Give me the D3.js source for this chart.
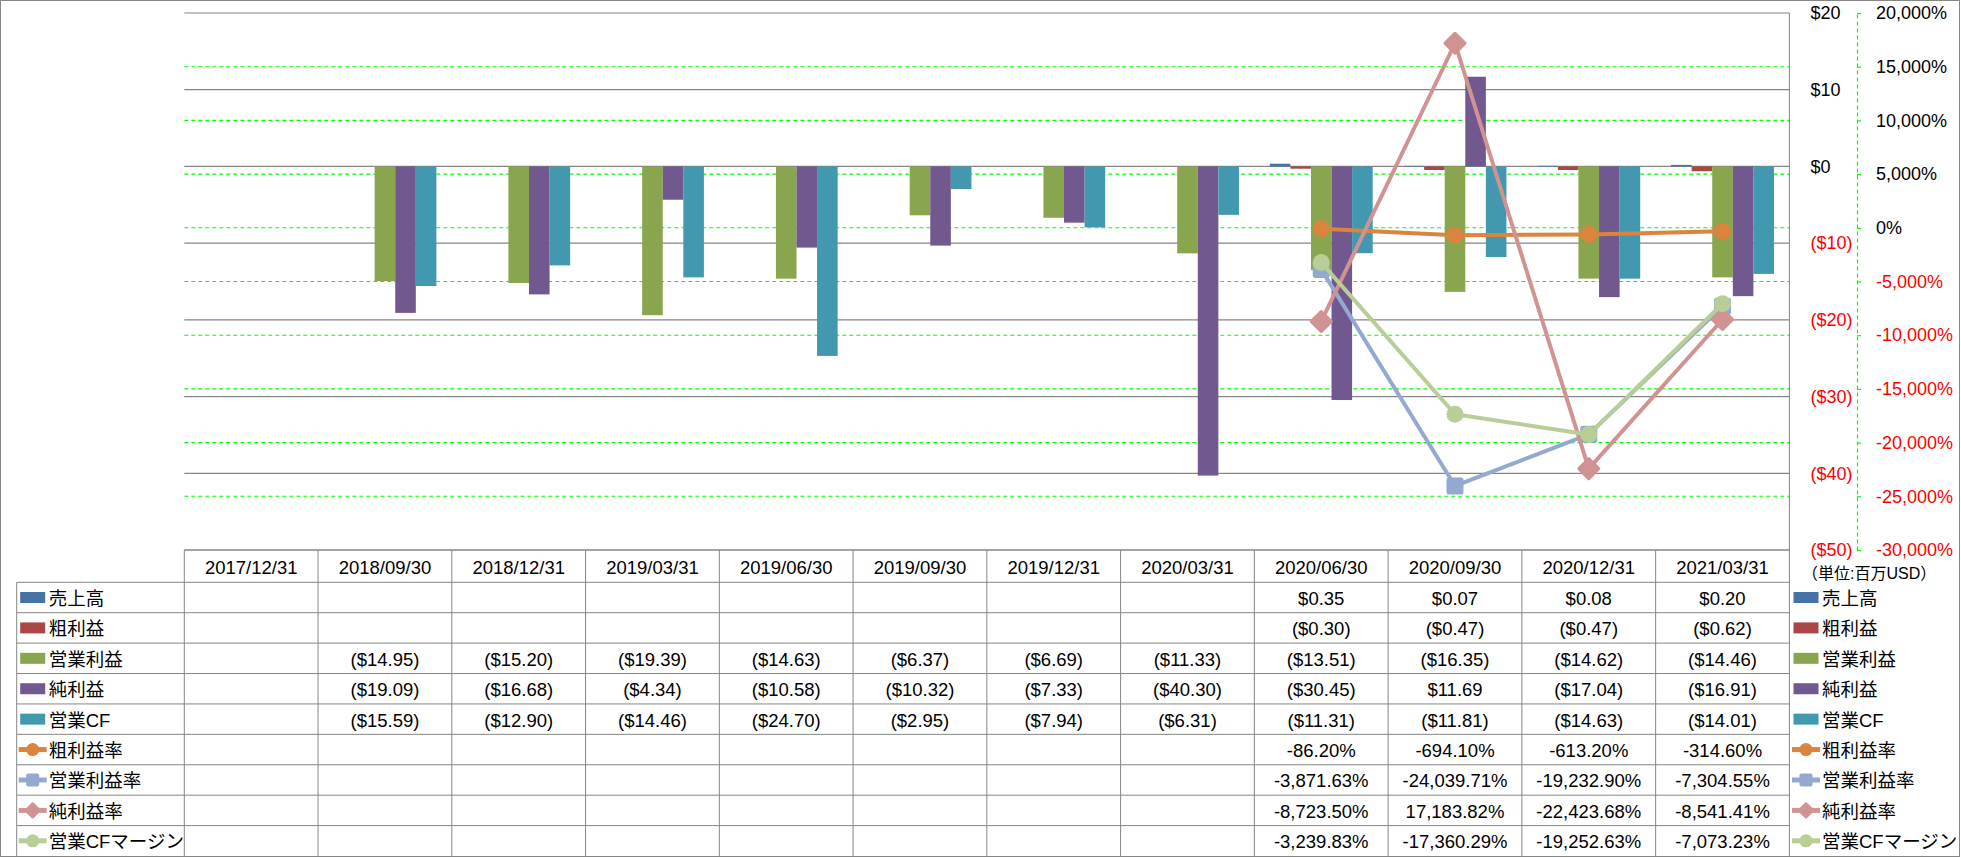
<!DOCTYPE html>
<html>
<head>
<meta charset="utf-8">
<script src="https://cdn.jsdelivr.net/npm/d3@7"></script>
<style>
  html, body { margin: 0; padding: 0; background: #fff; }
  svg { display: block; }
  text { font-family: "Liberation Sans", "Noto Sans CJK JP", sans-serif; }
</style>
</head>
<body>
<svg id="chart" width="1961" height="858"></svg>
<script>
// ---------------- data ----------------
const categories = ["2017/12/31","2018/09/30","2018/12/31","2019/03/31","2019/06/30","2019/09/30","2019/12/31","2020/03/31","2020/06/30","2020/09/30","2020/12/31","2021/03/31"];

const sales           = [null,null,null,null,null,null,null,null,0.35,0.07,0.08,0.20];
const grossProfit     = [null,null,null,null,null,null,null,null,-0.30,-0.47,-0.47,-0.62];
const operatingIncome = [null,-14.95,-15.20,-19.39,-14.63,-6.37,-6.69,-11.33,-13.51,-16.35,-14.62,-14.46];
const netIncome       = [null,-19.09,-16.68,-4.34,-10.58,-10.32,-7.33,-40.30,-30.45,11.69,-17.04,-16.91];
const operatingCF     = [null,-15.59,-12.90,-14.46,-24.70,-2.95,-7.94,-6.31,-11.31,-11.81,-14.63,-14.01];

const grossMargin     = [null,null,null,null,null,null,null,null,-86.20,-694.10,-613.20,-314.60];
const operatingMargin = [null,null,null,null,null,null,null,null,-3871.63,-24039.71,-19232.90,-7304.55];
const netMargin       = [null,null,null,null,null,null,null,null,-8723.50,17183.82,-22423.68,-8541.41];
const cfMargin        = [null,null,null,null,null,null,null,null,-3239.83,-17360.29,-19252.63,-7073.23];

const barNames  = ["売上高","粗利益","営業利益","純利益","営業CF"];
const lineNames = ["粗利益率","営業利益率","純利益率","営業CFマージン"];
const barColors  = ["#4572A7","#AA4643","#89A54E","#71588F","#4198AF"];
const lineColors = ["#DB843D","#93A9CF","#D19392","#B9CD96"];
const lineMarkers = ["circle","square","diamond","circle"];

const leftTicks  = [20,10,0,-10,-20,-30,-40,-50];
const rightTicks = [20000,15000,10000,5000,0,-5000,-10000,-15000,-20000,-25000,-30000];
const unitLabel = "（単位:百万USD）";

const barSeries  = [sales, grossProfit, operatingIncome, netIncome, operatingCF];
const lineSeries = [grossMargin, operatingMargin, netMargin, cfMargin];

// ---------------- layout ----------------
const svg = d3.select("#chart");
const plotLeft = 184.3, plotRight = 1789.4, plotTop = 13, plotBottom = 550;
const tableBottom = 856;
const rowH = (tableBottom - 582.3) / 9;
const legendLeft = 16.7;
const gridColor = "#868686";

const x = d3.scaleBand().domain(categories).range([plotLeft, plotRight]).padding(0);
const xIn = d3.scaleBand().domain(barNames).range([0, x.bandwidth()]).paddingInner(0).paddingOuter(0.75);
const yL = d3.scaleLinear().domain([-50, 20]).range([plotBottom, plotTop]);
const yR = d3.scaleLinear().domain([-30000, 20000]).range([plotBottom, plotTop]);

const fmtMoneyAxis = v => v >= 0 ? "$" + v : "($" + (-v) + ")";
const fmtPctAxis = v => (v < 0 ? "-" : "") + d3.format(",")(Math.abs(v)) + "%";
const fmtMoney = v => v >= 0 ? "$" + v.toFixed(2) : "($" + Math.abs(v).toFixed(2) + ")";
const fmtPct = v => (v < 0 ? "-" : "") + d3.format(",.2f")(Math.abs(v)) + "%";

// outer border
svg.append("rect").attr("x", 0.5).attr("y", 0.5).attr("width", 1959).attr("height", 856)
  .attr("fill", "none").attr("stroke", gridColor).attr("stroke-width", 1);

// green dashed (secondary) gridlines (the extremes coincide with the gray frame lines)
const rMin = d3.min(rightTicks), rMax = d3.max(rightTicks);
svg.append("g").selectAll("line").data(rightTicks.filter(d => d !== rMin && d !== rMax)).join("line")
  .attr("x1", plotLeft).attr("x2", plotRight)
  .attr("y1", d => yR(d)).attr("y2", d => yR(d))
  .attr("stroke", "#00FF00").attr("stroke-width", 1.1).attr("stroke-dasharray", "4,3");

// gray (primary) gridlines
svg.append("g").selectAll("line").data(leftTicks).join("line")
  .attr("x1", plotLeft).attr("x2", plotRight)
  .attr("y1", d => yL(d)).attr("y2", d => yL(d))
  .attr("stroke", gridColor).attr("stroke-width", 1.2);

// plot right border
svg.append("line").attr("x1", plotRight).attr("x2", plotRight).attr("y1", plotTop).attr("y2", tableBottom)
  .attr("stroke", gridColor);

// bars
const barG = svg.append("g");
barSeries.forEach((vals, si) => {
  barG.append("g").selectAll("rect")
    .data(categories.map((c, i) => ({c, v: vals[i]})).filter(d => d.v !== null))
    .join("rect")
    .attr("x", d => x(d.c) + xIn(barNames[si]))
    .attr("width", xIn.bandwidth())
    .attr("y", d => Math.min(yL(d.v), yL(0)))
    .attr("height", d => Math.abs(yL(d.v) - yL(0)))
    .attr("fill", barColors[si]);
});

// marker drawer
function drawMarker(g, type, cx, cy, size, color) {
  if (type === "circle") {
    g.append("circle").attr("cx", cx).attr("cy", cy).attr("r", size / 2).attr("fill", color);
  } else if (type === "square") {
    g.append("rect").attr("x", cx - size / 2).attr("y", cy - size / 2)
      .attr("width", size).attr("height", size).attr("rx", size * 0.15).attr("fill", color);
  } else {
    const s = size * 0.72;
    g.append("rect").attr("x", -s / 2).attr("y", -s / 2).attr("width", s).attr("height", s)
      .attr("rx", s * 0.1)
      .attr("transform", `translate(${cx},${cy}) rotate(45)`).attr("fill", color);
  }
}

// lines
const lineG = svg.append("g");
lineSeries.forEach((vals, si) => {
  const pts = categories.map((c, i) => ({c, v: vals[i]}));
  const line = d3.line().defined(d => d.v !== null)
    .x(d => x(d.c) + x.bandwidth() / 2).y(d => yR(d.v));
  const g = lineG.append("g");
  g.append("path").datum(pts).attr("d", line).attr("fill", "none")
    .attr("stroke", lineColors[si]).attr("stroke-width", 4).attr("stroke-linejoin", "round");
  pts.filter(d => d.v !== null).forEach(d => {
    drawMarker(g, lineMarkers[si], x(d.c) + x.bandwidth() / 2, yR(d.v), lineMarkers[si] === "diamond" ? 24 : 17, lineColors[si]);
  });
});

// right axes
const axL = svg.append("g").attr("transform", `translate(${plotRight},0)`)
  .call(d3.axisRight(yL).tickValues(leftTicks).tickFormat(fmtMoneyAxis).tickSize(0).tickPadding(21));
axL.select(".domain").remove();
axL.selectAll("text").attr("font-size", 18).attr("font-family", null)
  .attr("fill", d => d < 0 ? "#FF0000" : "#000");

const pctAxisX = 1857;
const axR = svg.append("g").attr("transform", `translate(${pctAxisX},0)`)
  .call(d3.axisRight(yR).tickValues(rightTicks).tickFormat(fmtPctAxis).tickSize(4).tickSizeOuter(0).tickPadding(15));
axR.select(".domain").attr("stroke", "#00FF00").attr("stroke-width", 1.2).attr("stroke-dasharray", "4,3");
axR.selectAll(".tick line").attr("stroke", "#00FF00").attr("stroke-width", 1.2);
axR.selectAll("text").attr("font-size", 18).attr("font-family", null)
  .attr("fill", d => d < 0 ? "#FF0000" : "#000");

// unit label
svg.append("text").attr("x", 1802).attr("y", 573).attr("dominant-baseline", "central")
  .attr("font-size", 16).text(unitLabel);

// ---------------- data table ----------------
const tbl = svg.append("g");
const headerTop = plotBottom, headerBottom = 582.3;
// horizontal lines
tbl.append("line").attr("x1", plotLeft).attr("x2", plotRight).attr("y1", headerTop).attr("y2", headerTop).attr("stroke", gridColor);
for (let r = 0; r < 9; r++) {
  const yy = headerBottom + r * rowH;
  tbl.append("line").attr("x1", legendLeft).attr("x2", plotRight).attr("y1", yy).attr("y2", yy).attr("stroke", gridColor);
}
// vertical lines
categories.forEach(c => {
  tbl.append("line").attr("x1", x(c)).attr("x2", x(c)).attr("y1", headerTop).attr("y2", tableBottom).attr("stroke", gridColor);
});
tbl.append("line").attr("x1", legendLeft).attr("x2", legendLeft).attr("y1", headerBottom).attr("y2", tableBottom).attr("stroke", gridColor);

// header labels
tbl.selectAll("text.hdr").data(categories).join("text").attr("class", "hdr")
  .attr("x", d => x(d) + x.bandwidth() / 2).attr("y", (headerTop + headerBottom) / 2 + 1)
  .attr("text-anchor", "middle").attr("dominant-baseline", "central").attr("font-size", 18.5).text(d => d);

const allNames = barNames.concat(lineNames);
const allSeries = barSeries.concat(lineSeries);
allSeries.forEach((vals, r) => {
  const cy = headerBottom + r * rowH + rowH / 2;
  const isBar = r < barNames.length;
  // values
  categories.forEach((c, i) => {
    if (vals[i] === null) return;
    tbl.append("text").attr("x", x(c) + x.bandwidth() / 2).attr("y", cy + 1)
      .attr("text-anchor", "middle").attr("dominant-baseline", "central").attr("font-size", 18.5)
      .text(isBar ? fmtMoney(vals[i]) : fmtPct(vals[i]));
  });
  // legend keys (inside table and on right)
  [[legendLeft + 3, legendLeft + 32], [1793, 1822]].forEach(([kx, tx]) => {
    if (isBar) {
      tbl.append("rect").attr("x", kx + 0.5).attr("y", cy - 5.5).attr("width", 25).attr("height", 11)
        .attr("fill", barColors[r]);
    } else {
      const li = r - barNames.length;
      tbl.append("line").attr("x1", kx - 1).attr("x2", kx + 27).attr("y1", cy).attr("y2", cy)
        .attr("stroke", lineColors[li]).attr("stroke-width", 5);
      drawMarker(tbl, lineMarkers[li], kx + 13, cy, lineMarkers[li] === "diamond" ? 17 : 13, lineColors[li]);
    }
    tbl.append("text").attr("x", tx).attr("y", cy + 1).attr("dominant-baseline", "central")
      .attr("font-size", 18.5).text(allNames[r]);
  });
});
</script>
</body>
</html>
